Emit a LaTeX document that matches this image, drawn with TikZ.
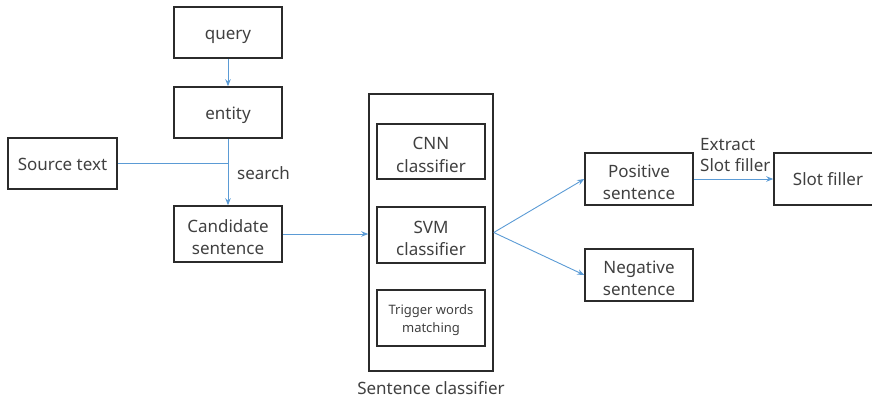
\documentclass[tikz,border=0pt]{standalone}
\usepackage{fontspec}
\setmainfont{Noto Sans}
\usetikzlibrary{arrows.meta}
\definecolor{linkblue}{HTML}{5B9BD5}
\definecolor{boxline}{HTML}{2B2B2B}
\definecolor{txt}{HTML}{404040}

\begin{document}
\begin{tikzpicture}[x=1pt,y=-1pt,
  box/.style={draw=boxline, line width=1.5pt, minimum width=108pt, inner sep=0pt},
  % box captions are set as centred labels so they can sit a little low
  onetext/.style={text=txt, font=\fontsize{17}{22}\selectfont, inner sep=0pt,
                  text height=12.5pt, text depth=3.5pt, yshift=-2pt},
  twotext/.style={text=txt, font=\fontsize{17}{22.5}\selectfont, inner sep=0pt,
                  align=center, yshift=-3.2pt},
  one/.style={box, label={[onetext]center:#1}},
  two/.style={box, label={[twotext]center:#1}},
  link/.style={draw=linkblue, line width=0.9pt, -{Stealth[length=7pt,width=5.5pt]}},
  plain/.style={draw=linkblue, line width=0.9pt},
  lbl/.style={text=txt, font=\fontsize{17}{21}\selectfont, align=left, inner sep=0pt}]
\useasboundingbox (0,0) rectangle (872,400);
\clip (0,0) rectangle (872,400);

% query / entity / source text / candidate column
\node[one={query}, minimum height=51pt] (query) at (228,32.5) {};
\node[one={entity}, minimum height=51pt] (entity) at (228,112.5) {};
\node[one={Source text}, minimum width=109pt, minimum height=51pt] (source) at (62.5,163.5) {};
\node[two={Candidate\\sentence}, minimum height=56pt] (cand) at (228,234) {};

% sentence classifier group
\node[box, minimum width=124pt, minimum height=277pt] (outer) at (431,232.5) {};
\node[two={CNN\\classifier}, minimum height=55pt] (cnn) at (431,151.5) {};
\node[two={SVM\\classifier}, minimum height=56pt] (svm) at (431,235) {};
\node[box, minimum height=56pt,
      label={[twotext, font=\fontsize{13}{18}\selectfont, yshift=1pt]center:Trigger words\\matching}]
      (trig) at (431,318) {};
\node[lbl, anchor=center] (grouplbl) at (431,388) {Sentence classifier};

% results
\node[two={Positive\\sentence}, minimum height=52pt] (pos) at (639,179) {};
\node[two={Negative\\sentence}, minimum height=52pt] (neg) at (639,275) {};
\node[one={Slot filler}, minimum height=52pt] (slot) at (828,179) {};

% connectors
\coordinate (join) at (entity.south |- source.east);
\draw[link] (query) -- (entity);
\draw[link] (entity) -- (cand);
\draw[plain] (source.east) -- (join);
\node[lbl, anchor=west] (search) at (237,173) {search};
\draw[link] (cand.east) -- (cand.east -| outer.west);
\draw[link] (outer.east) -- (pos.west);
\draw[link] (outer.east) -- (neg.west);
\draw[link] (pos) -- (slot);
\node[lbl, anchor=west] (extract) at (700,155) {Extract\\Slot filler};
\end{tikzpicture}
\end{document}
